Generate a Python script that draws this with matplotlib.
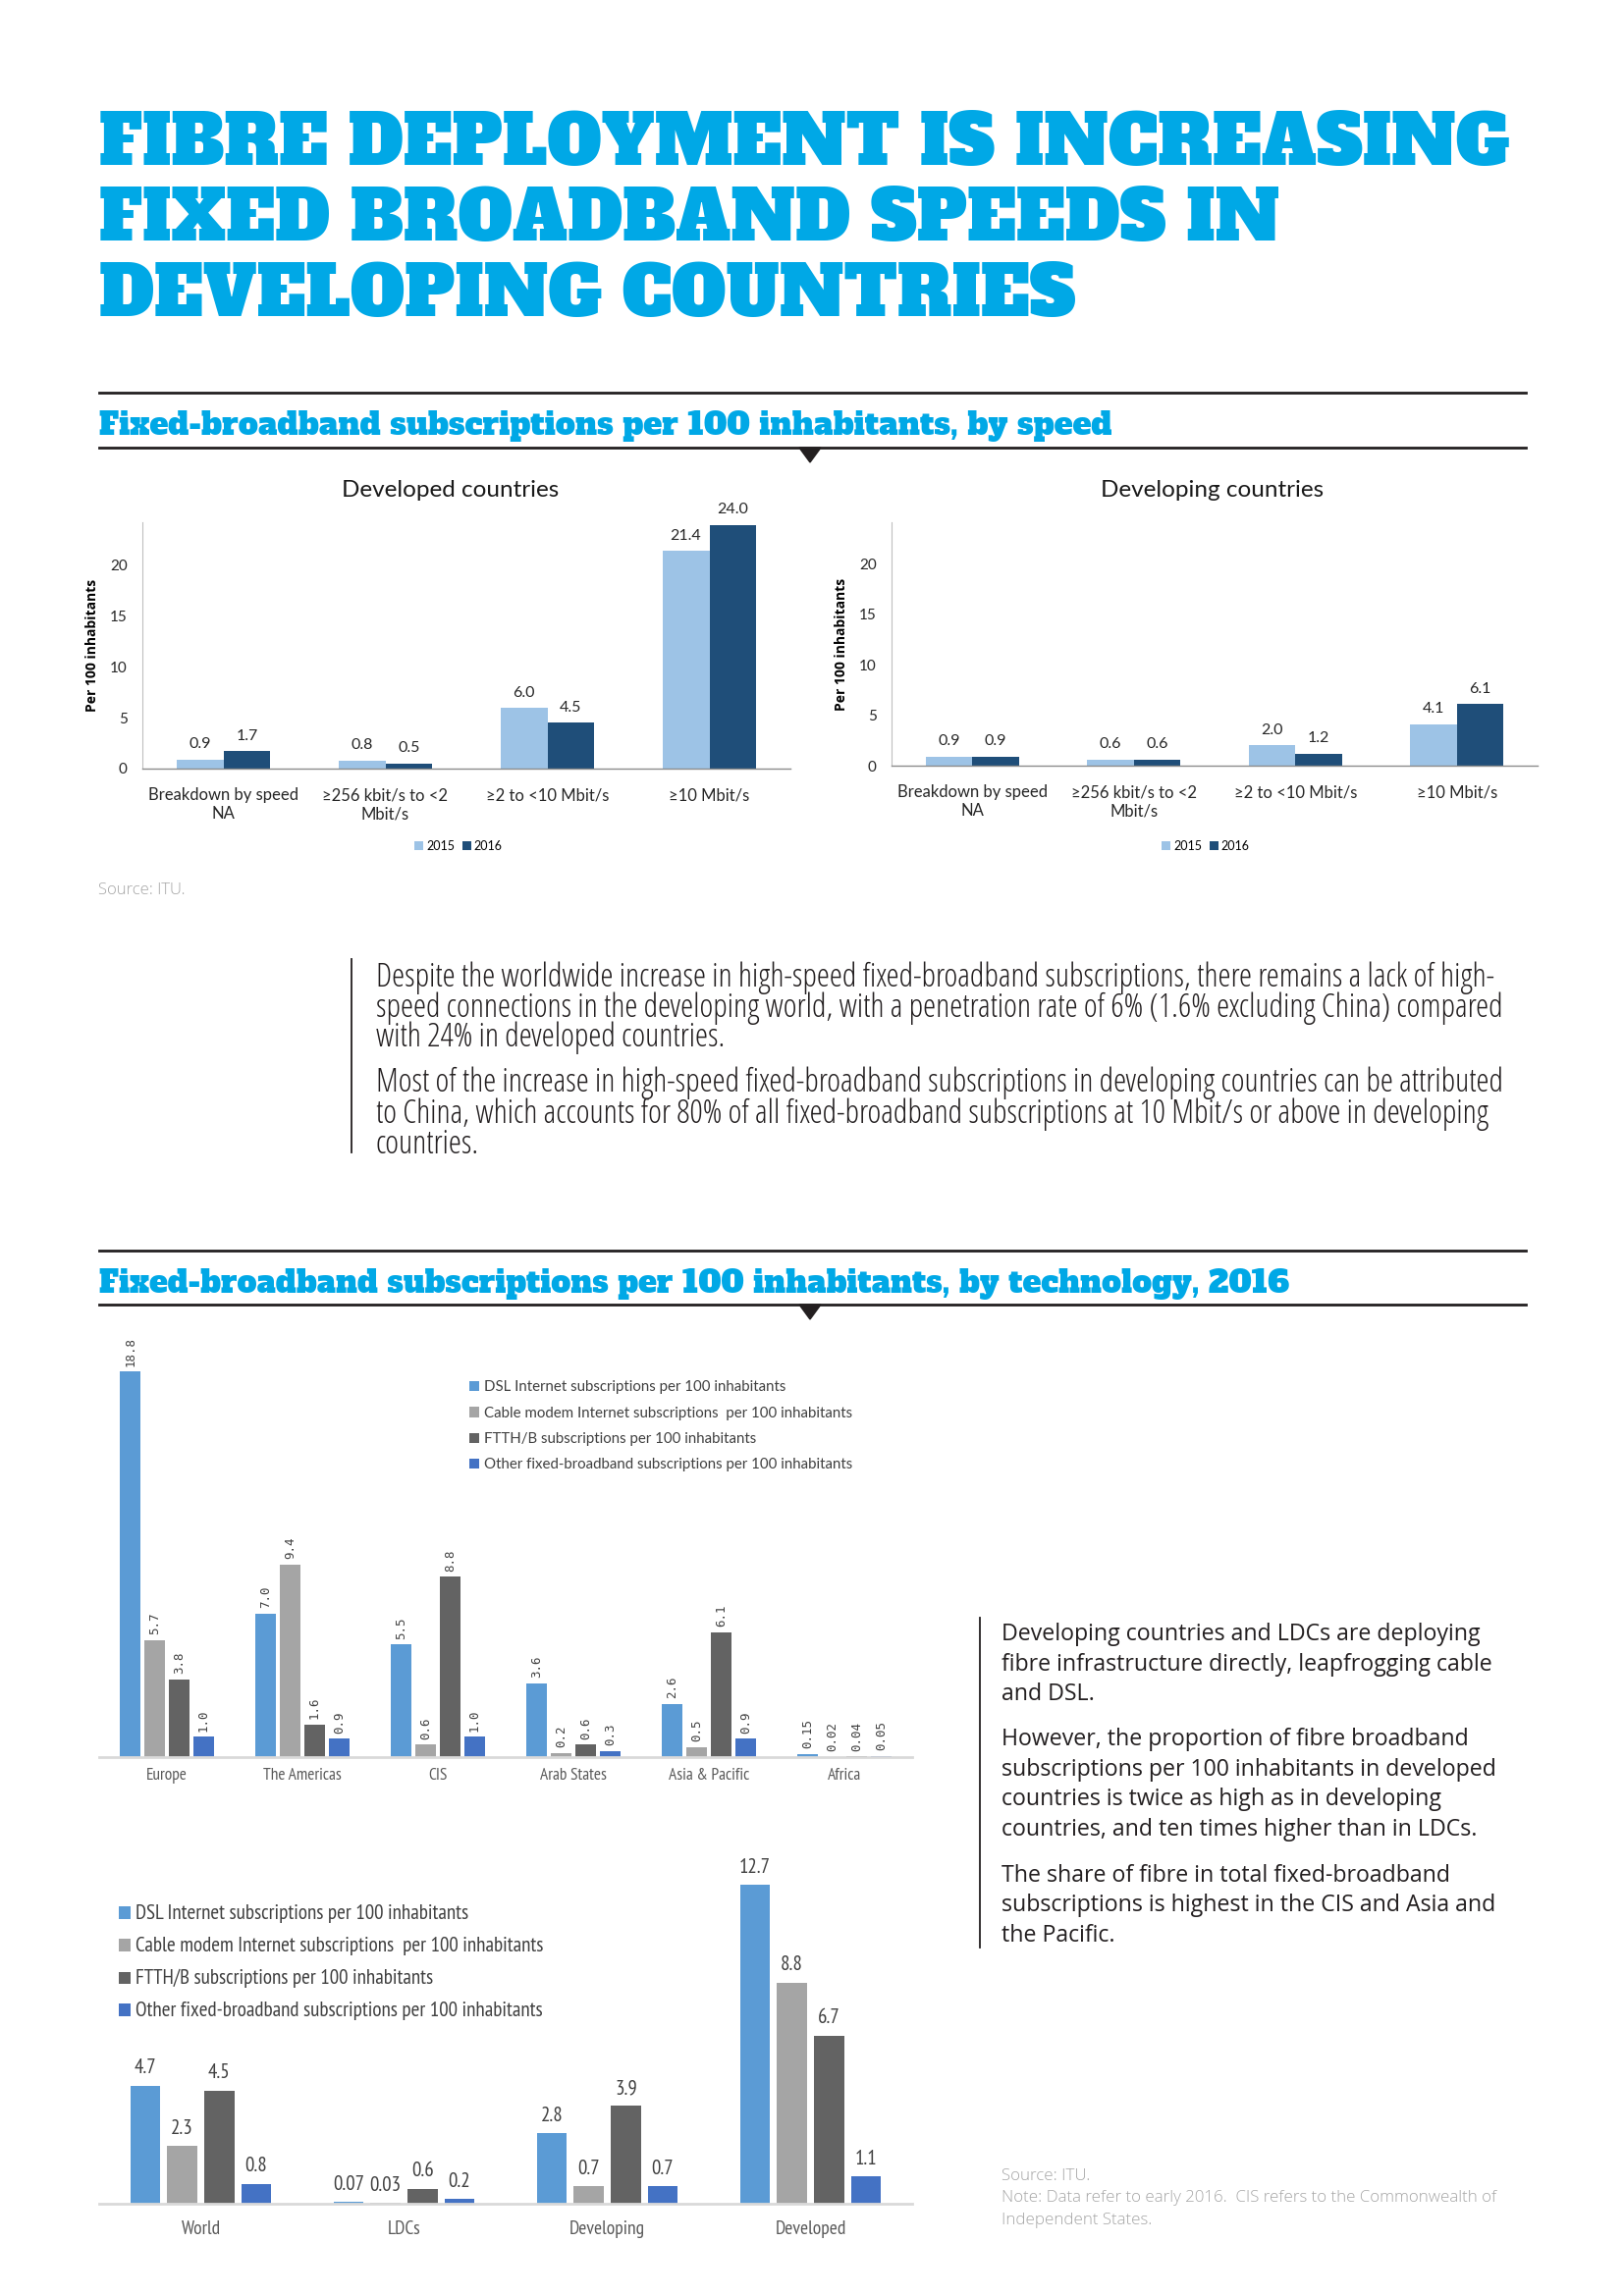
import numpy as np
import matplotlib
matplotlib.use("Agg")
import matplotlib.pyplot as plt
from matplotlib.patches import Polygon
from matplotlib.lines import Line2D

# ---- data -------------------------------------------------------------
speed_cats = ["Breakdown by speed\nNA", "\u2265256 kbit/s to <2\nMbit/s",
              "\u22652 to <10 Mbit/s", "\u226510 Mbit/s"]
years = ["2015", "2016"]
developed_2015 = [0.9, 0.8, 6.0, 21.4]
developed_2016 = [1.7, 0.5, 4.5, 24.0]
developing_2015 = [0.9, 0.6, 2.0, 4.1]
developing_2016 = [0.9, 0.6, 1.2, 6.1]

tech_names = ["DSL Internet subscriptions per 100 inhabitants",
              "Cable modem Internet subscriptions  per 100 inhabitants",
              "FTTH/B subscriptions per 100 inhabitants",
              "Other fixed-broadband subscriptions per 100 inhabitants"]
regions = ["Europe", "The Americas", "CIS", "Arab States", "Asia & Pacific", "Africa"]
region_dsl = [18.8, 7.0, 5.5, 3.6, 2.6, 0.15]
region_cable = [5.7, 9.4, 0.6, 0.2, 0.5, 0.02]
region_ftth = [3.8, 1.6, 8.8, 0.6, 6.1, 0.04]
region_other = [1.0, 0.9, 1.0, 0.3, 0.9, 0.05]

groups = ["World", "LDCs", "Developing", "Developed"]
group_dsl = [4.7, 0.07, 2.8, 12.7]
group_cable = [2.3, 0.03, 0.7, 8.8]
group_ftth = [4.5, 0.6, 3.9, 6.7]
group_other = [0.8, 0.2, 0.7, 1.1]

# ---- style --------------------------------------------------------------
SLAB = "Alfa Slab One"
CAL = ["Lato", "DejaVu Sans"]
NARROW = ["PT Sans Narrow", "DejaVu Sans"]
BODY = ["Open Sans", "DejaVu Sans"]
MONO = "DejaVu Sans Mono"

CYAN = "#00A8E6"
INK = "#231F20"
C2015, C2016 = "#9DC3E6", "#1F4E79"
TECH_COLORS = ["#5B9BD5", "#A5A5A5", "#636363", "#4472C4"]

W, H = 1654, 2339
fig = plt.figure(figsize=(W / 100, H / 100), dpi=100)
renderer = fig.canvas.get_renderer()


def fx(x):
    return x / W


def fy(y):
    return 1 - y / H


def axes_px(x0, y0, x1, y1):
    return fig.add_axes([x0 / W, 1 - y1 / H, (x1 - x0) / W, (y1 - y0) / H])


def fit(texts, ref, target_px):
    # scale a set of texts so that `ref` is target_px wide
    w = ref.get_window_extent(renderer).width
    k = target_px / w
    for t in texts:
        t.set_fontsize(t.get_fontsize() * k)


def hline(y, x0=101, x1=1554, lw=2.0):
    fig.add_artist(Line2D([fx(x0), fx(x1)], [fy(y), fy(y)], color=INK, lw=lw,
                          transform=fig.transFigure))


def vline(x, y0, y1, lw=1.3):
    fig.add_artist(Line2D([fx(x), fx(x)], [fy(y0), fy(y1)], color=INK, lw=lw,
                          transform=fig.transFigure))


def notch(x, y):
    fig.add_artist(Polygon([[fx(x - 11), fy(y)], [fx(x + 11), fy(y)], [fx(x), fy(y + 15)]],
                           closed=True, color=INK, transform=fig.transFigure))


def fmt_val(v):
    return f"{v:.1f}" if abs(round(v, 1) - v) < 1e-9 else f"{v:.2f}"


# ---- headline ------------------------------------------------------------
head = [fig.text(fx(101), fy(168 + i * 77), line, color=CYAN, family=SLAB,
                 fontsize=40, va="baseline", ha="left")
        for i, line in enumerate(["FIBRE DEPLOYMENT IS INCREASING",
                                  "FIXED BROADBAND SPEEDS IN",
                                  "DEVELOPING COUNTRIES"])]
fit(head, head[0], 1437)

hline(400)
sec1 = fig.text(fx(101), fy(431), "Fixed-broadband subscriptions per 100 inhabitants, by speed",
                color=CYAN, family=SLAB, fontsize=18, va="center_baseline")
fit([sec1], sec1, 1030)
hline(456)
notch(825, 456)


# ---- speed charts --------------------------------------------------------
def speed_chart(ax, v15, v16, title, title_x, legend_x, top):
    x = np.arange(len(speed_cats))
    w = 0.29
    b1 = ax.bar(x - w / 2, v15, w, color=C2015, label=years[0])
    b2 = ax.bar(x + w / 2, v16, w, color=C2016, label=years[1])
    for b in (b1, b2):
        ax.bar_label(b, fmt="%.1f", padding=6, fontsize=11.5, family=CAL,
                     color="#262626")
    ax.set_xlim(-0.5, 3.5)
    ax.set_ylim(0, top)
    ax.set_yticks([0, 5, 10, 15, 20])
    ax.set_xticks(x)
    ax.set_xticklabels(speed_cats, family=CAL, fontsize=12, color="#262626",
                       linespacing=1.2)
    ax.tick_params(axis="x", length=0, pad=14)
    ax.tick_params(axis="y", length=0, pad=11)
    for lab in ax.get_yticklabels():
        lab.set_family(CAL)
        lab.set_fontsize(11)
        lab.set_color("#262626")
    for s in ("top", "right"):
        ax.spines[s].set_visible(False)
    ax.spines["left"].set_color("#BFBFBF")
    ax.spines["left"].set_linewidth(0.8)
    ax.spines["bottom"].set_color("#8C8C8C")
    ax.spines["bottom"].set_linewidth(1.0)
    ax.set_ylabel("Per 100 inhabitants", family=BODY, weight="bold",
                  fontsize=10, color="#000000", labelpad=8)
    fig.text(fx(title_x), fy(500), title, family=CAL, fontsize=17.5,
             ha="center", va="center", color="#1A1A1A")
    ax.legend(loc="center", bbox_to_anchor=(fx(legend_x), fy(862)),
              bbox_transform=fig.transFigure, ncol=2, frameon=False,
              prop={"family": CAL, "size": 9}, handlelength=0.7, handleheight=0.7,
              handletextpad=0.25, columnspacing=0.6)


ax1 = axes_px(145, 532, 805, 783)
speed_chart(ax1, developed_2015, developed_2016, "Developed countries", 459, 467, 24.25)
ax2 = axes_px(908, 532, 1566, 780)
speed_chart(ax2, developing_2015, developing_2016, "Developing countries", 1235, 1228, 24.1)

src1 = fig.text(fx(100), fy(907), "Source: ITU.", family=BODY, fontsize=10.5,
                color="#A6A6A6", va="center", weight=300)
fit([src1], src1, 89)

# ---- text block 1 --------------------------------------------------------
vline(358, 977, 1174)
block1 = [
    "Despite the worldwide increase in high-speed fixed-broadband subscriptions, there remains a lack of high-",
    "speed connections in the developing world, with a penetration rate of 6% (1.6% excluding China) compared",
    "with 24% in developed countries.",
    "Most of the increase in high-speed fixed-broadband subscriptions in developing countries can be attributed",
    "to China, which accounts for 80% of all fixed-broadband subscriptions at 10 Mbit/s or above in developing",
    "countries.",
]
b1_texts = [fig.text(fx(383), fy(y), line, family=BODY, fontstretch="condensed",
                     weight=300, fontsize=17, color=INK, va="center_baseline")
            for line, y in zip(block1, [992, 1023, 1053, 1099, 1131, 1162])]
fit(b1_texts, b1_texts[0], 1146)

# ---- technology section --------------------------------------------------
hline(1274)
sec2 = fig.text(fx(101), fy(1304),
                "Fixed-broadband subscriptions per 100 inhabitants, by technology, 2016",
                color=CYAN, family=SLAB, fontsize=18, va="center_baseline")
fit([sec2], sec2, 1211)
hline(1329)
notch(825, 1329)


def tech_chart(ax, cats, series, step, width, rotated, label_size, cat_size, cat_pad):
    x = np.arange(len(cats))
    for i, (vals, name, col) in enumerate(zip(series, tech_names, TECH_COLORS)):
        bars = ax.bar(x + (i - 1.5) * step, vals, width, color=col, label=name)
        if rotated:
            ax.bar_label(bars, labels=[fmt_val(v) for v in vals], rotation=90,
                         padding=4, fontsize=label_size, family=MONO, color="#404040")
        else:
            ax.bar_label(bars, labels=[fmt_val(v) for v in vals], padding=6,
                         fontsize=label_size, family=NARROW, color="#404040")
    ax.set_xlim(-0.5, len(cats) - 0.5)
    ax.set_yticks([])
    ax.set_xticks(x)
    ax.set_xticklabels(cats, family=NARROW, fontsize=cat_size, color="#595959")
    ax.tick_params(length=0, pad=cat_pad)
    for s in ("top", "right", "left"):
        ax.spines[s].set_visible(False)
    ax.spines["bottom"].set_color("#D9D9D9")
    ax.spines["bottom"].set_linewidth(2.0)


ax3 = axes_px(101, 1370, 929, 1790)
tech_chart(ax3, regions, [region_dsl, region_cable, region_ftth, region_other],
           0.18, 0.149, True, 9, 12.5, 8)
ax3.set_ylim(0, 20.1)
leg3 = ax3.legend(loc="upper left", bbox_to_anchor=(fx(465), fy(1393)),
                  bbox_transform=fig.transFigure, frameon=False,
                  prop={"family": CAL, "size": 10.5}, handlelength=0.7,
                  handleheight=0.7, handletextpad=0.3, labelspacing=0.85,
                  labelcolor="#404040")
fit(leg3.get_texts(), leg3.get_texts()[0], 310)

ax4 = axes_px(101, 1900, 929, 2245)
tech_chart(ax4, groups, [group_dsl, group_cable, group_ftth, group_other],
           0.182, 0.147, False, 15, 14, 12)
ax4.set_ylim(0, 13.48)
leg4 = ax4.legend(loc="upper left", bbox_to_anchor=(fx(105), fy(1924)),
                  bbox_transform=fig.transFigure, frameon=False,
                  prop={"family": NARROW, "size": 12.5}, handlelength=0.7,
                  handleheight=0.7, handletextpad=0.3, labelspacing=0.8,
                  labelcolor="#404040")
fit(leg4.get_texts(), leg4.get_texts()[0], 337)

# ---- text block 2 --------------------------------------------------------
vline(998, 1648, 1984)
block2 = [
    "Developing countries and LDCs are deploying",
    "fibre infrastructure directly, leapfrogging cable",
    "and DSL.",
    "However, the proportion of fibre broadband",
    "subscriptions per 100 inhabitants in developed",
    "countries is twice as high as in developing",
    "countries, and ten times higher than in LDCs.",
    "The share of fibre in total fixed-broadband",
    "subscriptions is highest in the CIS and Asia and",
    "the Pacific.",
]
b2_texts = [fig.text(fx(1020), fy(y), line, family=BODY, fontsize=15, color=INK,
                     va="center_baseline")
            for line, y in zip(block2, [1662, 1693, 1723, 1769, 1800, 1830, 1861,
                                        1908, 1938, 1969])]
fit(b2_texts, b2_texts[4], 506)

notes = [fig.text(fx(1020), fy(y), line, family=BODY, fontsize=10.5, color="#A6A6A6",
                  va="center_baseline", weight=300)
         for line, y in zip(["Source: ITU.",
                             "Note: Data refer to early 2016.  CIS refers to the Commonwealth of",
                             "Independent States."], [2215, 2237, 2260])]
fit(notes, notes[1], 508)

fig.savefig("out.png", dpi=100)
